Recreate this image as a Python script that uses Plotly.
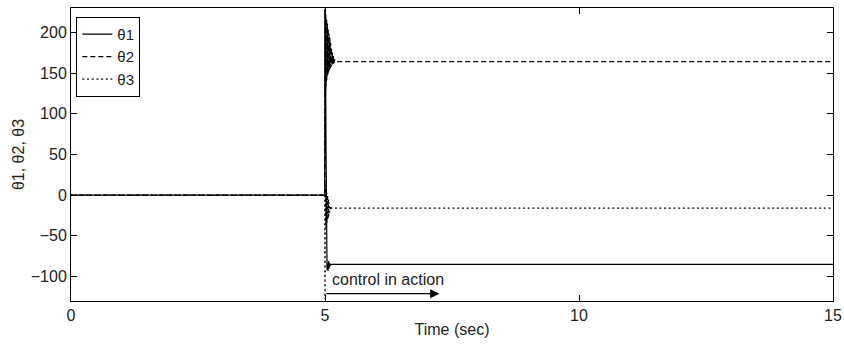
import plotly.graph_objects as go

# time (s) and joint angles (deg)
t1 = [0, 4.995, 5.0, 5.01, 5.02, 5.03, 5.04, 5.05, 5.06, 5.07, 5.08, 5.09, 5.10, 5.12, 5.15, 15]
theta1 = [0, 0, 228, 190, 60, -40, -92, -84, -93, -81, -90, -83, -87, -85, -85, -85]

t2 = [0, 4.995, 5.0, 5.004, 5.008, 5.012, 5.016, 5.02, 5.024, 5.028, 5.032, 5.036, 5.04,
      5.044, 5.048, 5.052, 5.056, 5.06, 5.064, 5.068, 5.072, 5.076, 5.08, 5.084, 5.088,
      5.092, 5.096, 5.1, 5.104, 5.108, 5.112, 5.116, 5.12, 5.124, 5.128, 5.132, 5.136,
      5.14, 5.145, 5.15, 5.155, 5.16, 5.165, 5.17, 5.175, 5.18, 5.19, 5.2, 5.22, 15]
theta2 = [0, 0, 229, 120, 226, 128, 222, 134, 220, 138, 217, 142, 214, 145, 211, 148,
          208, 150, 205, 152, 202, 153, 199, 154, 196, 155, 193, 156, 190, 157, 187, 158,
          184, 159, 181, 160, 178, 161, 176, 161, 174, 162, 171, 162, 169, 163, 167, 165,
          164, 164]

t3 = [0, 4.995, 5.0, 5.004, 5.008, 5.012, 5.016, 5.02, 5.024, 5.028, 5.032, 5.036, 5.04,
      5.044, 5.048, 5.052, 5.056, 5.06, 5.064, 5.068, 5.072, 5.076, 5.08, 5.085, 5.09,
      5.095, 5.1, 5.105, 5.11, 5.12, 5.13, 5.15, 15]
theta3 = [0, 0, -128, 14, -44, 10, -40, 8, -37, 5, -35, 3, -33, 1, -31, -1, -29, -3, -27,
          -5, -25, -7, -23, -9, -21, -11, -19, -13, -18, -15, -16, -16, -16]

names = ["θ1", "θ2", "θ3"]
dashes = ["solid", "5px,3px", "2px,2.7px"]

xticks = [0, 5, 10, 15]
yticks = [-100, -50, 0, 50, 100, 150, 200]

FONT = "Arial, Liberation Sans, Helvetica, sans-serif"
FS = 16

fig = go.Figure()
for t, th, nm, ds in zip([t1, t2, t3], [theta1, theta2, theta3], names, dashes):
    fig.add_trace(go.Scatter(x=t, y=th, mode="lines", name=nm,
                             line=dict(color="black", width=1.2, dash=ds)))

fig.add_annotation(x=5.1, y=-103, xref="x", yref="y", text="control in action",
                   showarrow=False, xanchor="left", yanchor="middle",
                   font=dict(family=FONT, size=FS, color="#222"))
fig.add_annotation(x=7.25, y=-121, ax=5.0, ay=-121, xref="x", yref="y",
                   axref="x", ayref="y", text="", showarrow=True,
                   arrowhead=2, arrowsize=1.4, arrowwidth=1.3, arrowcolor="black")

axis_common = dict(showline=True, linecolor="black", linewidth=1, mirror="allticks",
                   ticks="inside", ticklen=6, tickcolor="black", showgrid=False,
                   zeroline=False, tickfont=dict(family=FONT, size=FS, color="#222"))

fig.update_xaxes(range=[0, 15], tickvals=xticks,
                 title=dict(text="Time (sec)", font=dict(family=FONT, size=FS, color="#222"),
                            standoff=0), **axis_common)
fig.update_yaxes(range=[-130, 230], tickvals=yticks,
                 title=dict(text="θ1, θ2, θ3", font=dict(family=FONT, size=FS, color="#222"),
                            standoff=2), **axis_common)

fig.update_layout(
    width=844, height=346,
    margin=dict(l=71, r=11, t=8, b=45, autoexpand=False),
    plot_bgcolor="white", paper_bgcolor="white",
    font=dict(family=FONT, size=FS, color="black"),
    legend=dict(x=0.007, y=0.97, xanchor="left", yanchor="top",
                bgcolor="white", bordercolor="black", borderwidth=1,
                font=dict(family=FONT, size=15, color="#222"),
                tracegroupgap=0, itemwidth=30),
    showlegend=True,
)

fig.write_html("out.html", config={"displayModeBar": False},
               post_script="document.body.style.margin='0';")
